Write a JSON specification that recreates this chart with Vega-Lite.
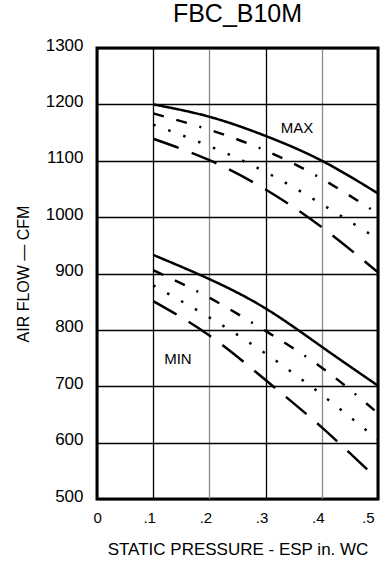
{
  "$schema": "https://vega.github.io/schema/vega-lite/v6.json",
  "width": 281,
  "height": 451,
  "autosize": {"type": "none"},
  "padding": {"left": 97, "top": 48, "right": 10, "bottom": 66},
  "background": "white",
  "title": {
    "text": "FBC_B10M",
    "font": "Liberation Sans, Arial, sans-serif",
    "fontSize": 25,
    "fontWeight": "normal",
    "color": "black",
    "anchor": "middle",
    "baseline": "alphabetic",
    "offset": -11
  },
  "config": {
    "view": {"stroke": "black", "strokeWidth": 3},
    "axis": {
      "labelFont": "Liberation Sans, Arial, sans-serif",
      "titleFont": "Liberation Sans, Arial, sans-serif",
      "labelColor": "black",
      "titleColor": "black",
      "titleFontWeight": "normal",
      "domain": false,
      "ticks": false
    }
  },
  "datasets": {
    "curves": [
      {"group": "MAX", "style": "solid", "esp": 0.1, "cfm": 1200},
      {"group": "MAX", "style": "solid", "esp": 0.2, "cfm": 1178},
      {"group": "MAX", "style": "solid", "esp": 0.3, "cfm": 1144},
      {"group": "MAX", "style": "solid", "esp": 0.4, "cfm": 1100},
      {"group": "MAX", "style": "solid", "esp": 0.5, "cfm": 1042},
      {"group": "MAX", "style": "dashdot", "esp": 0.1, "cfm": 1184},
      {"group": "MAX", "style": "dashdot", "esp": 0.2, "cfm": 1155},
      {"group": "MAX", "style": "dashdot", "esp": 0.3, "cfm": 1118},
      {"group": "MAX", "style": "dashdot", "esp": 0.4, "cfm": 1068},
      {"group": "MAX", "style": "dashdot", "esp": 0.5, "cfm": 1006},
      {"group": "MAX", "style": "dotted", "esp": 0.1, "cfm": 1164},
      {"group": "MAX", "style": "dotted", "esp": 0.2, "cfm": 1126},
      {"group": "MAX", "style": "dotted", "esp": 0.3, "cfm": 1080},
      {"group": "MAX", "style": "dotted", "esp": 0.4, "cfm": 1023},
      {"group": "MAX", "style": "dotted", "esp": 0.5, "cfm": 961},
      {"group": "MAX", "style": "longdash", "esp": 0.1, "cfm": 1139},
      {"group": "MAX", "style": "longdash", "esp": 0.2, "cfm": 1101},
      {"group": "MAX", "style": "longdash", "esp": 0.3, "cfm": 1049},
      {"group": "MAX", "style": "longdash", "esp": 0.4, "cfm": 982},
      {"group": "MAX", "style": "longdash", "esp": 0.5, "cfm": 902},
      {"group": "MIN", "style": "solid", "esp": 0.1, "cfm": 933},
      {"group": "MIN", "style": "solid", "esp": 0.2, "cfm": 890},
      {"group": "MIN", "style": "solid", "esp": 0.3, "cfm": 838},
      {"group": "MIN", "style": "solid", "esp": 0.4, "cfm": 770},
      {"group": "MIN", "style": "solid", "esp": 0.5, "cfm": 701},
      {"group": "MIN", "style": "dashdot", "esp": 0.1, "cfm": 906},
      {"group": "MIN", "style": "dashdot", "esp": 0.2, "cfm": 857},
      {"group": "MIN", "style": "dashdot", "esp": 0.3, "cfm": 798},
      {"group": "MIN", "style": "dashdot", "esp": 0.4, "cfm": 733},
      {"group": "MIN", "style": "dashdot", "esp": 0.5, "cfm": 652},
      {"group": "MIN", "style": "dotted", "esp": 0.1, "cfm": 879},
      {"group": "MIN", "style": "dotted", "esp": 0.2, "cfm": 822},
      {"group": "MIN", "style": "dotted", "esp": 0.3, "cfm": 758},
      {"group": "MIN", "style": "dotted", "esp": 0.4, "cfm": 685},
      {"group": "MIN", "style": "dotted", "esp": 0.5, "cfm": 605},
      {"group": "MIN", "style": "longdash", "esp": 0.1, "cfm": 851},
      {"group": "MIN", "style": "longdash", "esp": 0.2, "cfm": 790},
      {"group": "MIN", "style": "longdash", "esp": 0.3, "cfm": 711},
      {"group": "MIN", "style": "longdash", "esp": 0.4, "cfm": 627},
      {"group": "MIN", "style": "longdash", "esp": 0.5, "cfm": 534}
    ],
    "labels": [
      {"esp": 0.356, "cfm": 1158, "label": "MAX"},
      {"esp": 0.144, "cfm": 748, "label": "MIN"}
    ]
  },
  "layer": [
    {
      "data": {"name": "curves"},
      "mark": {"type": "line", "interpolate": "natural", "color": "black", "strokeWidth": 2.5, "clip": true},
      "encoding": {
        "x": {
          "field": "esp", "type": "quantitative",
          "scale": {"domain": [0, 0.5], "nice": false, "zero": false},
          "axis": {
            "values": [0, 0.1, 0.2, 0.3, 0.4, 0.5],
            "labelExpr": "datum.value == 0 ? '0' : '.' + round(datum.value * 10)",
            "labelFontSize": 15,
            "labelPadding": 11,
            "labelOffset": -4,
            "title": "STATIC PRESSURE - ESP in. WC",
            "titleFontSize": 17,
            "titlePadding": 16,
            "grid": true,
            "gridColor": {"condition": {"test": "datum.value == 0.2 || datum.value == 0.4", "value": "#8a8a8a"}, "value": "black"},
            "gridWidth": 1.3,
            "gridOpacity": 1
          }
        },
        "y": {
          "field": "cfm", "type": "quantitative",
          "scale": {"domain": [500, 1300], "nice": false, "zero": false},
          "axis": {
            "values": [500, 600, 700, 800, 900, 1000, 1100, 1200, 1300],
            "format": "d",
            "labelFontSize": 17,
            "labelPadding": 14,
            "labelOffset": -3,
            "title": "AIR FLOW — CFM",
            "titleFontSize": 16,
            "titlePadding": 14,
            "grid": true,
            "gridColor": "black",
            "gridWidth": 1.3,
            "gridOpacity": 1
          }
        },
        "detail": {"field": "group"},
        "strokeDash": {
          "field": "style", "type": "nominal",
          "scale": {
            "domain": ["solid", "dashdot", "dotted", "longdash"],
            "range": [[1, 0], [11, 13, 11, 13, 2, 13], [2.5, 13.5], [27, 14]]
          },
          "legend": null
        }
      }
    },
    {
      "data": {"name": "labels"},
      "mark": {"type": "text", "font": "Liberation Sans, Arial, sans-serif", "fontSize": 15, "color": "black", "align": "center", "baseline": "middle"},
      "encoding": {
        "x": {"field": "esp", "type": "quantitative"},
        "y": {"field": "cfm", "type": "quantitative"},
        "text": {"field": "label"}
      }
    }
  ]
}
